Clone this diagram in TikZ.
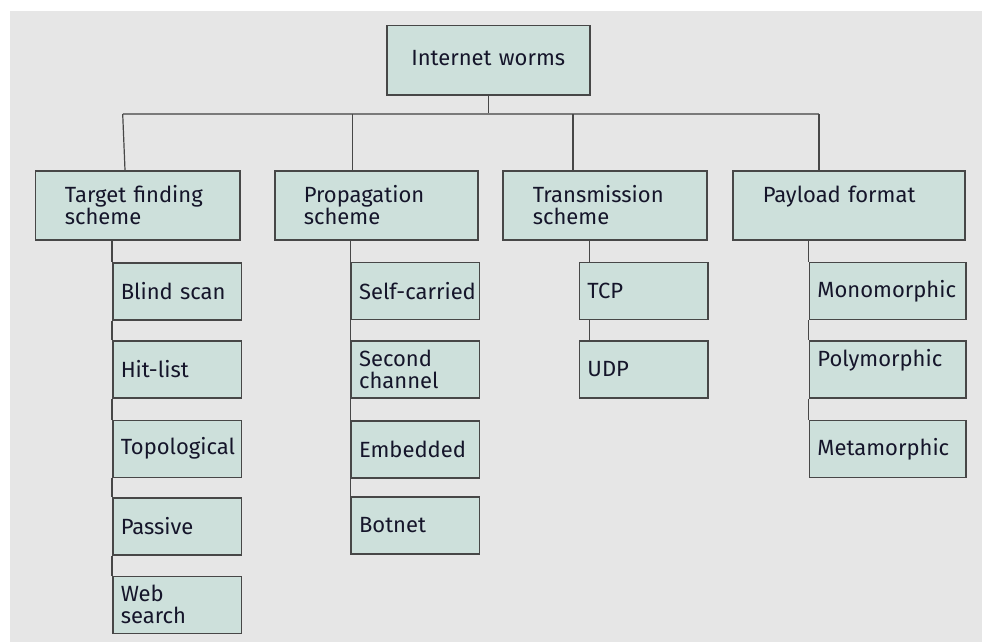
\documentclass[tikz,border=0pt]{standalone}
\usepackage{fontspec}
\setmainfont{Fira Sans}
\usetikzlibrary{calc}
\definecolor{pagebg}{HTML}{E6E6E6}
\definecolor{boxfill}{HTML}{CDE0DB}
\definecolor{boxline}{HTML}{474747}
\definecolor{inkc}{HTML}{15152A}
\definecolor{busline}{HTML}{7A7A7A}
\tikzset{
  box/.style={draw=boxline, fill=boxfill, line width=1.5pt, rectangle,
    anchor=north west, inner ysep=0pt, align=left, text=inkc,
    font=\fontsize{22}{22}\selectfont},
  catbox/.style={box, minimum height=69pt},
  leafbox/.style={box, minimum height=57pt, inner xsep=8pt, text width=#1},
  stem/.style={draw=boxline, line width=1.2pt},
  busln/.style={draw=busline, line width=1.7pt},
}
\begin{document}
\begin{tikzpicture}[x=1pt, y=-1pt]
  % canvas
  \fill[white] (0,0) rectangle (982,642);
  \fill[pagebg] (10,11) rectangle (982,642);
  \useasboundingbox (0,0) rectangle (982,642);

  % root
  \node[box, minimum height=69pt, inner xsep=0pt, text width=203pt, align=center]
    (root) at (386,25) {\raisebox{4pt}{Internet worms}};

  % categories
  \node[catbox, inner xsep=29.3pt, text width=145.7pt] (tgt) at (34.7,170) {Target finding\\scheme};
  \node[catbox, inner xsep=29pt, text width=145pt] (prop) at (274,170) {Propagation\\scheme};
  \node[catbox, inner xsep=30pt, text width=144pt] (trn) at (502,170) {Transmission\\scheme};
  \node[catbox, inner xsep=30pt, text width=172pt] (pay) at (732,170) {Payload format\\\mbox{}};

  % target finding leaves
  \node[leafbox=112.7pt] (t1) at (112,262) {Blind scan};
  \node[leafbox=112.7pt] (t2) at (112,340) {Hit-list};
  \node[leafbox=112.7pt] (t3) at (112,419.5) {Topological};
  \node[leafbox=112.7pt] (t4) at (112,497) {Passive};
  \node[leafbox=112.7pt] (t5) at (112,575.5) {Web\\search};

  % propagation leaves
  \node[leafbox=112.4pt] (p1) at (350.3,261.5) {\mbox{Self-carried}};
  \node[leafbox=112.4pt] (p2) at (350.3,340) {Second\\channel};
  \node[leafbox=112.4pt] (p3) at (350.3,420) {Embedded};
  \node[leafbox=112.4pt] (p4) at (350.3,496) {Botnet};

  % transmission leaves
  \node[leafbox=112.6pt] (x1) at (578.7,261.7) {TCP};
  \node[leafbox=112.6pt] (x2) at (578.7,340) {UDP};

  % payload leaves
  \node[leafbox=140.3pt] (y1) at (808.7,261.7) {Monomorphic};
  \node[leafbox=140.3pt] (y2) at (808.7,340) {Polymorphic\\\mbox{}};
  \node[leafbox=140.3pt] (y3) at (808.7,419.7) {Metamorphic};

  % bus and branches
  \coordinate (busL) at (122.7,114);
  \coordinate (busR) at (819,114);
  \coordinate (jP) at (352.7,114);
  \coordinate (jT) at (573,114);
  \draw[stem] (root.south) -- (root.south |- busL);
  \draw[busln] (busL) -- (busR);
  \draw[stem] (busL) -- ($(tgt.north west)+(90.3,0)$);
  \draw[stem] (jP) -- (jP |- prop.north);
  \draw[stem] (jT) -- (jT |- trn.north);
  \draw[stem] (busR) -- (busR |- pay.north);

  % target finding stems
  \draw[stem] (tgt.south -| t1.west) -- (t1.north west);
  \draw[stem] (t1.south west) -- (t2.north west);
  \draw[stem] (t2.south west) -- (t3.north west);
  \draw[stem] (t3.south west) -- (t4.north west);
  \draw[stem] (t4.south west) -- (t5.north west);

  % propagation stems
  \draw[stem] (prop.south -| p1.west) -- (p1.north west);
  \draw[stem] (p1.south west) -- (p2.north west);
  \draw[stem] (p2.south west) -- (p3.north west);
  \draw[stem] (p3.south west) -- (p4.north west);

  % transmission stems (offset into the boxes)
  \path ($(x1.north west)+(10.6,0)$) coordinate (xin);
  \draw[stem] (trn.south -| xin) -- (xin);
  \draw[stem] (x1.south -| xin) -- (x2.north -| xin);

  % payload stems
  \draw[stem] (pay.south -| y1.west) -- (y1.north west);
  \draw[stem] (y1.south west) -- (y2.north west);
  \draw[stem] (y2.south west) -- (y3.north west);
\end{tikzpicture}
\end{document}
